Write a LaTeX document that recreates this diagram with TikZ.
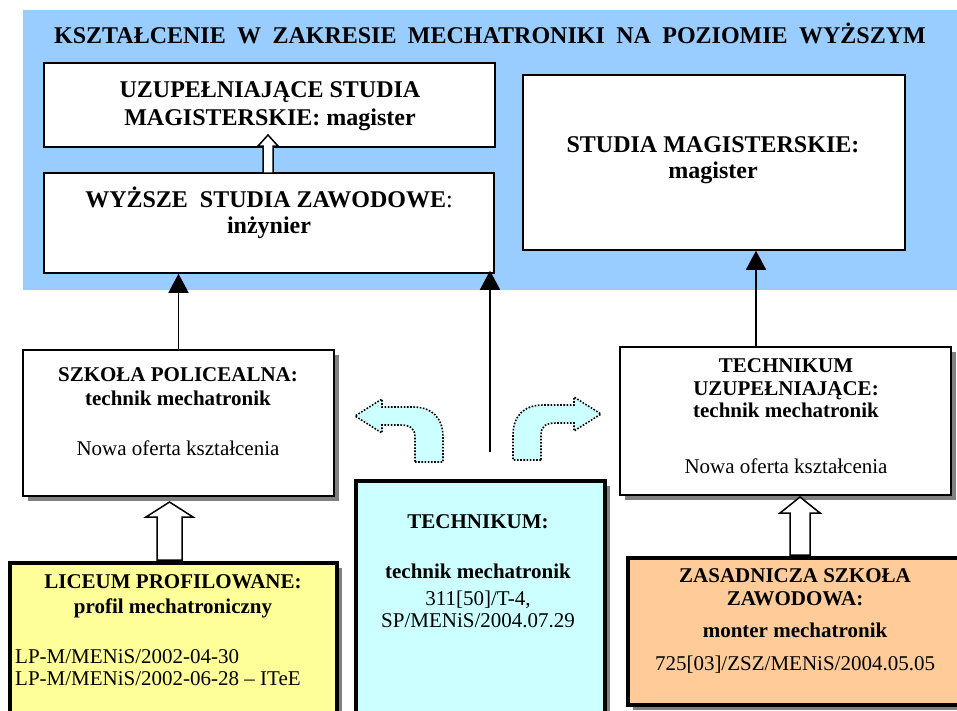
\documentclass[tikz,border=0pt]{standalone}
\usepackage{fontspec}
\setmainfont{Liberation Serif}
\usetikzlibrary{arrows.meta,fit,shadows}
\definecolor{bgblue}{HTML}{99CCFF}
\definecolor{cyanfill}{HTML}{CCFFFF}
\definecolor{yelfill}{HTML}{FFFF99}
\definecolor{peach}{HTML}{FFCC99}
\definecolor{shad}{HTML}{808080}
\begin{document}
\begin{tikzpicture}[x=1pt,y=-1pt,
  box/.style={draw=black,line width=1.5pt,fill=white,inner sep=0pt},
  thickbox/.style={draw=black,line width=4pt,inner sep=0pt},
  shadowed/.style={drop shadow={shadow xshift=5pt,shadow yshift=-5pt,fill=shad,opacity=1}},
  big/.style={font=\fontsize{24}{28}\selectfont\bfseries,inner sep=0pt,anchor=base},
  bl/.style={font=\fontsize{21}{25}\selectfont\bfseries,inner sep=0pt,anchor=base},
  rg/.style={font=\fontsize{21}{25}\selectfont,inner sep=0pt,anchor=base},
  rgl/.style={font=\fontsize{21}{25}\selectfont,inner sep=0pt,anchor=base west},
  conn/.style={line width=1.5pt,-{Triangle[width=20pt,length=19pt]}},
  hollow/.style={draw=black,line width=1.5pt,fill=white,line join=miter},
  curved/.style={draw=black,fill=cyanfill,line width=1.6pt,dash pattern=on 1.6pt off 1.6pt}
]
\useasboundingbox (0,0) rectangle (957,710);
\clip (0,0) rectangle (957,710);
% background
\fill[bgblue] (23,10) rectangle (957,290);
% upper boxes
\node[box,fit={(44,63) (495,147)}] (uz) {};
\node[box,fit={(44,173) (494,273)}] (wy) {};
\node[box,fit={(523,75) (905,250)}] (sm) {};
% middle boxes
\node[box,shadowed,fit={(23,350) (334,496)}] (sp) {};
\node[box,shadowed,fit={(620,347) (951,495)}] (tu) {};
% bottom boxes
\node[thickbox,fill=yelfill,shadowed,fit={(10,563) (337,720)}] (lp) {};
\node[thickbox,fill=cyanfill,shadowed,fit={(356,481) (605,720)}] (te) {};
\node[thickbox,fill=peach,shadowed,fit={(628,558) (965,705)}] (zs) {};
% hollow block arrows
\draw[hollow] (263,173) -- (263,146) -- (258,146) -- (268,135) -- (278,146) -- (273,146) -- (273,173) -- cycle;
\draw[hollow] (157,560) -- (157,517) -- (146,517) -- (169.5,502) -- (193,517) -- (182,517) -- (182,560) -- cycle;
\draw[hollow] (790,555) -- (790,513) -- (780,513) -- (800,497) -- (820,513) -- (810,513) -- (810,555) -- cycle;
% curved dotted arrows
\draw[curved] (415,462) -- (443,462) -- (443,437) .. controls (443,418) and (432,407) .. (413,407) -- (382,407) -- (382,399) -- (355,416) -- (382,433) -- (382,425) -- (400,425) .. controls (410,425) and (415,428) .. (415,437) -- cycle;
\draw[curved] (541,460) -- (513,460) -- (513,435) .. controls (513,416) and (524,405) .. (543,405) -- (574,405) -- (574,397) -- (601,414) -- (574,431) -- (574,423) -- (556,423) .. controls (546,423) and (541,426) .. (541,435) -- cycle;
% connectors
\coordinate (tstart) at (490,452);
\draw[conn] (sp.north) -- (sp.north |- wy.south);
\draw[conn] (tstart) -- ([yshift=3pt]tstart |- wy.south);
\coordinate (tuup) at ([xshift=-29.5pt]tu.north);
\draw[conn] (tuup) -- (tuup |- sm.south);
% texts
\node[big] (title) at (490,43) {\spaceskip=11.4pt\relax KSZTAŁCENIE W ZAKRESIE MECHATRONIKI NA POZIOMIE WYŻSZYM};
\node[big] (uz1) at (270,97) {UZUPEŁNIAJĄCE STUDIA};
\node[big] (uz2) at (270,125) {MAGISTERSKIE: magister};
\node[big] (wy1) at (269,207) {WYŻSZE\ \ STUDIA ZAWODOWE{\mdseries:}};
\node[big] (wy2) at (269,233) {inżynier};
\node[big] (sm1) at (713,152) {STUDIA MAGISTERSKIE:};
\node[big] (sm2) at (713,178) {magister};
\node[bl] (sp1) at (178,381) {SZKOŁA POLICEALNA:};
\node[bl] (sp2) at (178,405) {technik mechatronik};
\node[rg] (sp3) at (178,455) {Nowa oferta kształcenia};
\node[bl] (tu1) at (786,372) {TECHNIKUM};
\node[bl] (tu2) at (786,395) {UZUPEŁNIAJĄCE:};
\node[bl] (tu3) at (786,417) {technik mechatronik};
\node[rg] (tu4) at (786,473) {Nowa oferta kształcenia};
\node[bl] (lp1) at (173,588) {LICEUM PROFILOWANE:};
\node[bl] (lp2) at (173,613) {profil mechatroniczny};
\node[rgl] (lp3) at (15,663) {LP-M/MENiS/2002-04-30};
\node[rgl] (lp4) at (15,685) {LP-M/MENiS/2002-06-28 – ITeE};
\node[bl] (te1) at (478,528) {TECHNIKUM:};
\node[bl] (te2) at (478,578) {technik mechatronik};
\node[rg] (te3) at (478,605) {311[50]/T-4,};
\node[rg] (te4) at (478,627) {SP/MENiS/2004.07.29};
\node[bl] (zs1) at (795,582) {ZASADNICZA SZKOŁA};
\node[bl] (zs2) at (795,605) {ZAWODOWA:};
\node[bl] (zs3) at (795,637) {monter mechatronik};
\node[rg] (zs4) at (795,670) {725[03]/ZSZ/MENiS/2004.05.05};
\end{tikzpicture}
\end{document}
